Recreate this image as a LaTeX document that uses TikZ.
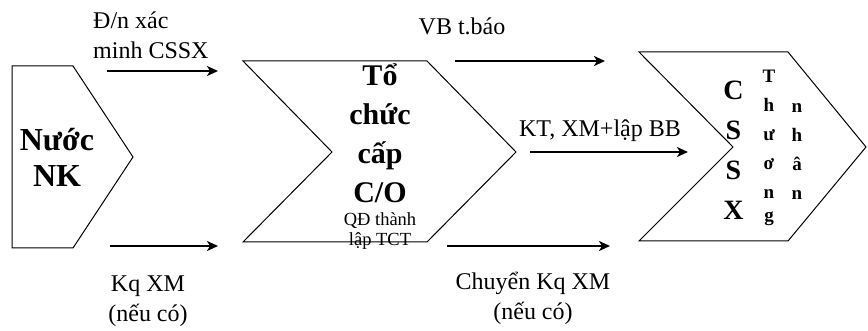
\documentclass[tikz,border=0pt]{standalone}
\usepackage{fontspec}
\setmainfont{Liberation Serif}
\usetikzlibrary{arrows.meta}

\begin{document}
\begin{tikzpicture}[
    x=1pt, y=-1pt,
    every node/.style={inner sep=0pt, align=center},
    flowtext/.style={font=\fontsize{24}{30}\selectfont},
    bigtext/.style={font=\bfseries\fontsize{32}{36}\selectfont},
    cotext/.style={font=\bfseries\fontsize{30}{39}\selectfont},
    smalltext/.style={font=\fontsize{18.5}{20}\selectfont},
    cssxtext/.style={font=\bfseries\fontsize{28}{40}\selectfont},
    tntext/.style={font=\bfseries\fontsize{19}{29}\selectfont},
    block/.style={draw, line width=1pt, line join=miter},
    arrow/.style={line width=2pt, -{Stealth[length=11pt, width=10pt, inset=3pt]}}
]
\useasboundingbox (0,0) rectangle (868,331);

% KHỐI HÌNH
\draw[block] (12,66) -- (73,66) -- (133,157) -- (73,248) -- (12,248) -- cycle;
\draw[block] (243,61) -- (427,61) -- (516,152) -- (427,242) -- (243,242) -- (332,152) -- cycle;
\draw[block] (639,52) -- (788,52) -- (866,147) -- (788,241) -- (639,241) -- (733,147) -- cycle;

% CHỮ TRONG KHỐI
\node[bigtext] (nuocnk) at (57,157) {Nước\\NK};
\node[cotext] (tochuc) at (380,133) {Tổ\\chức\\cấp\\C/O};
\node[smalltext] (qdtl) at (380,231) {QĐ thành\\lập TCT};
\node[cssxtext] (cssx) at (733.5,150.5) {C\\S\\S\\X};
\node[tntext] (thuong) at (769,148) {T\\h\\ư\\ơ\\n\\[-6pt]g};
\node[tntext] (nhan) at (797,152) {n\\h\\â\\n};

% ĐIỂM ĐẦU, CUỐI MŨI TÊN
\coordinate (dnA) at (107,71);  \coordinate (dnB) at (218,71);
\coordinate (kqA) at (110,246); \coordinate (kqB) at (218,246);
\coordinate (vbA) at (455,61);  \coordinate (vbB) at (605,61);
\coordinate (ktA) at (530,152); \coordinate (ktB) at (688,152);
\coordinate (ckA) at (447,246); \coordinate (ckB) at (610,246);

% MŨI TÊN
\draw[arrow] (dnA) -- (dnB);
\draw[arrow] (kqA) -- (kqB);
\draw[arrow] (vbA) -- (vbB);
\draw[arrow] (ktA) -- (ktB);
\draw[arrow] (ckA) -- (ckB);

% NHÃN MŨI TÊN
\node[flowtext, anchor=west, align=left] (dnxm) at (93,35.5) {Đ/n xác\\minh CSSX};
\node[flowtext] (kqxm) at (148,301.5) {Kq XM\\(nếu có)};
\node[flowtext, anchor=base] (vbtb) at (462,35) {VB t.báo};
\node[flowtext, anchor=base] (ktbb) at (600,137) {KT, XM+lập BB};
\node[flowtext] (chuyen) at (533,298) {Chuyển Kq XM\\(nếu có)};

\end{tikzpicture}
\end{document}
